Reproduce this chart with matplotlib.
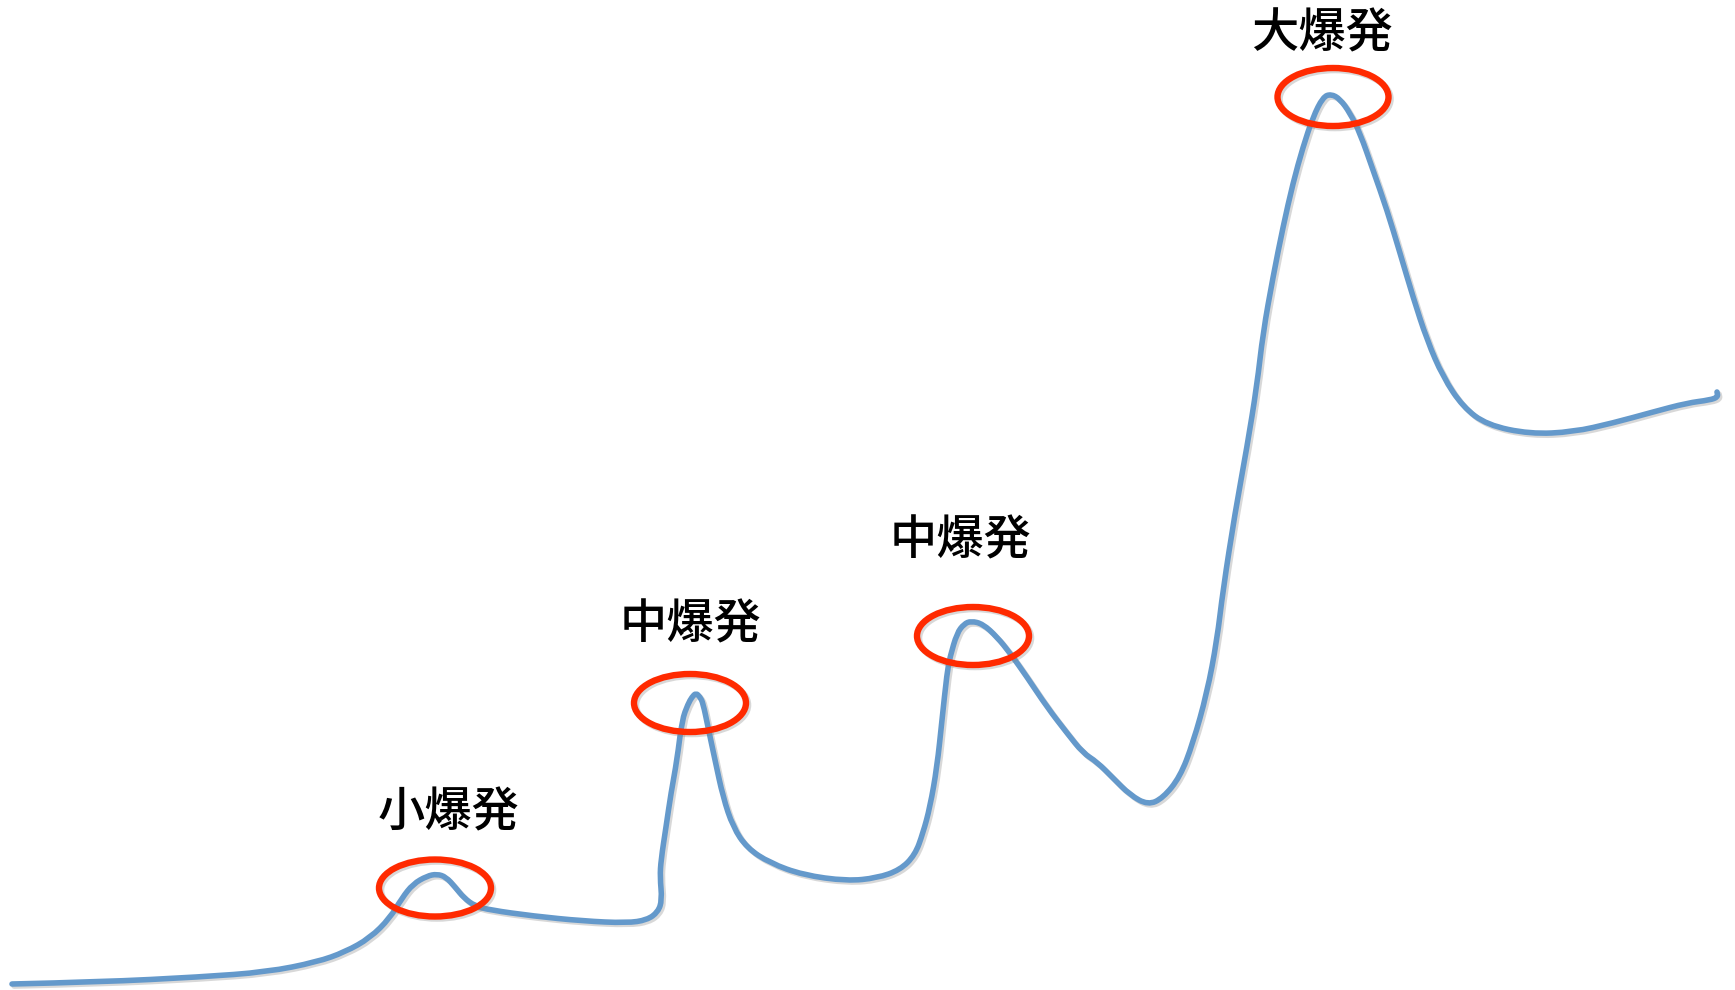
import matplotlib
matplotlib.use('Agg')
import matplotlib.pyplot as plt
import matplotlib.patheffects as pe
from matplotlib.patches import Ellipse, PathPatch
from matplotlib.path import Path

plt.rcParams['font.family'] = ['Noto Sans CJK JP', 'DejaVu Sans']

# curve (x to the right, y downward from the top)
curve_x = [12, 100, 200, 267, 317, 345, 370, 390, 402, 413, 427, 437, 446, 455, 464, 475,
           490, 533, 583, 627, 647, 658, 662, 660, 661, 666, 671, 677, 682, 688, 692, 696,
           700, 703, 708, 715, 723, 733, 747, 770, 803, 847, 877, 900, 915, 923, 930, 937,
           942, 947, 950, 957, 964, 971, 983, 997, 1010, 1027, 1047, 1067, 1083, 1097, 1113,
           1130, 1148, 1163, 1180, 1193, 1207, 1217, 1223, 1235, 1247, 1257, 1263, 1273, 1283,
           1293, 1303, 1313, 1323, 1331, 1340, 1350, 1360, 1373, 1387, 1400, 1413, 1427, 1443,
           1463, 1487, 1530, 1573, 1613, 1653, 1687, 1710, 1718, 1717]
curve_y = [984, 982, 977, 972, 962, 952, 938, 918, 898, 884, 876, 874, 877, 887, 898, 906,
           910, 916, 921, 923, 920, 912, 900, 877, 860, 827, 793, 760, 720, 704, 697, 693,
           697, 703, 727, 760, 797, 827, 848, 863, 875, 881, 878, 870, 855, 833, 807, 767,
           720, 673, 657, 633, 624, 621, 624, 637, 653, 677, 707, 733, 753, 762, 778,
           795, 805, 798, 777, 743, 693, 640, 590, 513, 447, 385, 333, 277, 227,
           183, 147, 117, 97, 94, 99, 113, 133, 170, 210, 253, 297, 340, 377,
           407, 425, 434, 432, 423, 412, 403, 400, 397, 392]

# highlighted peaks
circle_x = [435, 690, 973, 1333]
circle_y = [888, 703, 636, 97]
circle_w = [112, 112, 112, 111]
circle_h = [57, 58, 58, 58]

labels = ['小爆発', '中爆発', '中爆発', '大爆発']
label_x = [449, 690, 960, 1322]
label_y = [813, 625, 541, 34]

fig = plt.figure(figsize=(17.35, 9.9), dpi=100)
ax = fig.add_axes([0, 0, 1, 1])
ax.set_xlim(0, 1735)
ax.set_ylim(990, 0)
ax.axis('off')

shadow = [pe.SimpleLineShadow(offset=(1.5, -1.5), shadow_color='gray', alpha=0.3),
          pe.Normal()]

# smooth the traced points with quadratic bezier segments
pts = list(zip(curve_x, curve_y))
verts = [pts[0]]
codes = [Path.MOVETO]
for i in range(1, len(pts) - 1):
    nxt = ((pts[i][0] + pts[i + 1][0]) / 2, (pts[i][1] + pts[i + 1][1]) / 2)
    verts += [pts[i], nxt]
    codes += [Path.CURVE3, Path.CURVE3]
verts.append(pts[-1])
codes.append(Path.LINETO)
line = PathPatch(Path(verts, codes), fill=False, edgecolor='#6499CB', lw=4.0,
                 joinstyle='round', capstyle='round', zorder=2)
line.set_path_effects(shadow)
ax.add_patch(line)

for cx, cy, w, h in zip(circle_x, circle_y, circle_w, circle_h):
    e = Ellipse((cx, cy), w, h, fill=False, edgecolor='#FF2A00', lw=4.6, zorder=3)
    e.set_path_effects(shadow)
    ax.add_patch(e)

for t, lx, ly in zip(labels, label_x, label_y):
    ax.text(lx, ly, t, fontsize=34, fontweight='medium', ha='center', va='center',
            color='black', zorder=4)

fig.savefig('out.png', dpi=100)
